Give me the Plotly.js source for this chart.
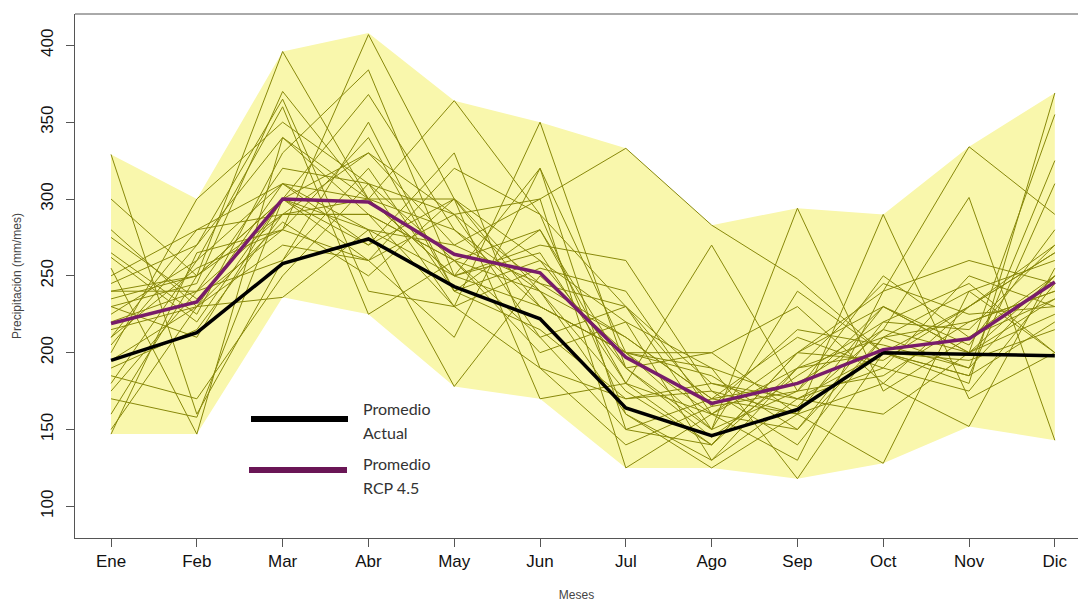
<!DOCTYPE html>
<html>
<head>
<meta charset="utf-8">
<script src="https://cdn.plot.ly/plotly-3.0.1.min.js"></script>
<style>
html,body{margin:0;padding:0;background:#fff;}
#chart{width:1078px;height:602px;}
</style>
</head>
<body>
<div id="chart"></div>
<script>
// Categories
const months = ["Ene","Feb","Mar","Abr","May","Jun","Jul","Ago","Sep","Oct","Nov","Dic"];
const yTicks = [100,150,200,250,300,350,400];

// Envelope of the ensemble (yellow band)
const bandTop    = [329, 300, 396, 408, 364, 350, 333, 283, 294, 290, 334, 369];
const bandBottom = [147, 147, 236, 225, 178, 170, 125, 125, 118, 128, 152, 143];

// Mean lines
const promedioActual = [195, 213, 258, 274, 243, 222, 164, 146, 163, 200, 199, 198];
const promedioRCP45  = [219, 233, 300, 298, 264, 252, 197, 167, 180, 202, 209, 246];

// Ensemble members (RCP 4.5 models)
const m01 = [235, 250, 396, 300, 250, 265, 180, 160, 150, 210, 190, 250];
const m02 = [210, 255, 280, 407, 300, 230, 200, 150, 175, 185, 220, 240];
const m03 = [265, 225, 330, 384, 250, 320, 150, 140, 200, 195, 230, 265];
const m04 = [240, 250, 300, 368, 280, 240, 210, 170, 160, 230, 200, 355];
const m05 = [190, 215, 290, 300, 364, 290, 230, 180, 170, 190, 250, 230];
const m06 = [220, 240, 290, 290, 230, 350, 190, 145, 185, 220, 215, 270];
const m07 = [250, 280, 310, 280, 270, 300, 333, 283, 248, 200, 185, 220];
const m08 = [329, 160, 260, 320, 240, 215, 170, 175, 140, 210, 240, 260];
const m09 = [200, 300, 350, 310, 260, 240, 160, 130, 190, 200, 180, 369];
const m10 = [215, 230, 270, 260, 290, 210, 230, 150, 294, 175, 210, 235];
const m11 = [180, 260, 310, 270, 300, 260, 190, 200, 160, 290, 170, 200];
const m12 = [230, 245, 370, 300, 250, 230, 200, 160, 200, 240, 334, 290];
const m13 = [160, 250, 290, 330, 270, 245, 210, 170, 180, 215, 301, 143];
const m14 = [245, 270, 340, 290, 260, 280, 180, 270, 175, 230, 200, 250];
const m15 = [205, 270, 365, 240, 230, 255, 240, 160, 130, 240, 260, 245];
const m16 = [275, 235, 280, 260, 320, 290, 160, 125, 160, 180, 230, 270];
const m17 = [185, 170, 250, 310, 230, 190, 140, 165, 215, 205, 190, 325];
const m18 = [300, 250, 300, 280, 178, 250, 200, 190, 170, 160, 200, 225];
const m19 = [170, 158, 300, 330, 290, 300, 125, 160, 190, 210, 220, 240];
const m20 = [225, 260, 360, 225, 260, 200, 220, 190, 118, 200, 195, 215];
const m21 = [255, 147, 340, 300, 300, 170, 180, 140, 200, 230, 205, 280];
const m22 = [150, 230, 236, 280, 250, 270, 260, 175, 160, 128, 240, 200];
const m23 = [195, 230, 310, 300, 280, 230, 200, 200, 230, 180, 152, 255];
const m24 = [280, 230, 285, 250, 300, 240, 175, 140, 190, 245, 225, 230];
const m25 = [147, 265, 280, 340, 240, 260, 220, 130, 170, 200, 185, 310];
const m26 = [262, 220, 300, 260, 210, 320, 200, 185, 150, 220, 245, 200];
const m27 = [210, 280, 290, 290, 260, 210, 150, 170, 210, 190, 175, 245];
const m28 = [240, 240, 320, 310, 290, 245, 230, 165, 175, 250, 210, 250];
const m29 = [175, 240, 260, 350, 240, 280, 190, 150, 240, 200, 230, 265];
const m30 = [230, 210, 300, 270, 330, 190, 170, 180, 165, 215, 200, 235];
const ensemble = [m01,m02,m03,m04,m05,m06,m07,m08,m09,m10,m11,m12,m13,m14,m15,
                  m16,m17,m18,m19,m20,m21,m22,m23,m24,m25,m26,m27,m28,m29,m30];

// Legend labels
const legendActual = ["Promedio", "Actual"];
const legendRCP = ["Promedio", "RCP 4.5"];

const bandColor = "rgb(249,247,172)";
const memberColor = "rgb(136,136,10)";
const actualColor = "#000000";
const rcpColor = "#781c6a";
const legendRcpColor = "#6a1656";

const traces = [];
traces.push({x: months, y: bandBottom, type: "scatter", mode: "lines",
  line: {width: 0, color: bandColor}, hoverinfo: "skip", showlegend: false});
traces.push({x: months, y: bandTop, type: "scatter", mode: "lines", fill: "tonexty",
  fillcolor: bandColor, line: {width: 0, color: bandColor}, hoverinfo: "skip", showlegend: false});
ensemble.forEach(function(s){
  traces.push({x: months, y: s, type: "scatter", mode: "lines",
    line: {width: 1, color: memberColor}, hoverinfo: "skip", showlegend: false});
});
traces.push({x: months, y: promedioActual, type: "scatter", mode: "lines",
  name: "Promedio Actual", line: {width: 3.5, color: actualColor}, showlegend: false});
traces.push({x: months, y: promedioRCP45, type: "scatter", mode: "lines",
  name: "Promedio RCP 4.5", line: {width: 3.5, color: rcpColor}, showlegend: false});

const W = 1078, H = 602;
const mL = 75, mR = 0, mT = 14, mB = 64;
const plotW = W - mL - mR, plotH = H - mT - mB;
function px(x){ return (x - mL) / plotW; }
function py(y){ return 1 - (y - mT) / plotH; }

const axisCol = "#555555";
const tickFont = {family: "Liberation Sans, Arial, sans-serif", size: 17, color: "#111"};
const legFont = {family: "Lato, Open Sans, sans-serif", size: 16, color: "#333"};

const layout = {
  width: W, height: H,
  margin: {l: mL, r: mR, t: mT, b: mB, pad: 0},
  paper_bgcolor: "#fff", plot_bgcolor: "#fff",
  showlegend: false,
  xaxis: {
    type: "category", range: [-0.42, 11.27],
    showgrid: false, zeroline: false,
    showline: true, linecolor: axisCol, linewidth: 1,
    ticks: "outside", ticklen: 8, tickcolor: axisCol, tickwidth: 1,
    tickfont: tickFont,
    title: {text: "Meses", font: {family: "Liberation Sans, Arial, sans-serif", size: 12, color: "#444"}, standoff: 20},
    automargin: false, fixedrange: true
  },
  yaxis: {
    range: [79.4, 420.4],
    tickvals: yTicks, ticktext: yTicks.map(String),
    tickangle: -90,
    showgrid: false, zeroline: false,
    showline: true, linecolor: axisCol, linewidth: 1,
    ticks: "outside", ticklen: 8, tickcolor: axisCol, tickwidth: 1,
    tickfont: tickFont, ticklabelstandoff: 6,
    title: {text: "Precipitación (mm/mes)", font: {family: "Liberation Sans, Arial, sans-serif", size: 12, color: "#444"}, standoff: 14},
    automargin: false, fixedrange: true
  },
  shapes: [
    {type: "line", xref: "paper", yref: "paper", x0: 0, x1: 1, y0: 1, y1: 1,
     line: {color: axisCol, width: 1}},
    {type: "line", xref: "paper", yref: "paper", x0: px(251), x1: px(348), y0: py(419), y1: py(419),
     line: {color: actualColor, width: 6}},
    {type: "line", xref: "paper", yref: "paper", x0: px(249), x1: px(347), y0: py(470), y1: py(470),
     line: {color: legendRcpColor, width: 6}}
  ],
  annotations: [
    {xref: "paper", yref: "paper", x: px(361), y: py(408), text: legendActual[0], showarrow: false,
     xanchor: "left", yanchor: "middle", font: legFont},
    {xref: "paper", yref: "paper", x: px(361), y: py(432), text: legendActual[1], showarrow: false,
     xanchor: "left", yanchor: "middle", font: legFont},
    {xref: "paper", yref: "paper", x: px(361), y: py(463), text: legendRCP[0], showarrow: false,
     xanchor: "left", yanchor: "middle", font: legFont},
    {xref: "paper", yref: "paper", x: px(361), y: py(487), text: legendRCP[1], showarrow: false,
     xanchor: "left", yanchor: "middle", font: legFont}
  ]
};

Plotly.newPlot("chart", traces, layout, {staticPlot: true, displayModeBar: false});
</script>
</body>
</html>
